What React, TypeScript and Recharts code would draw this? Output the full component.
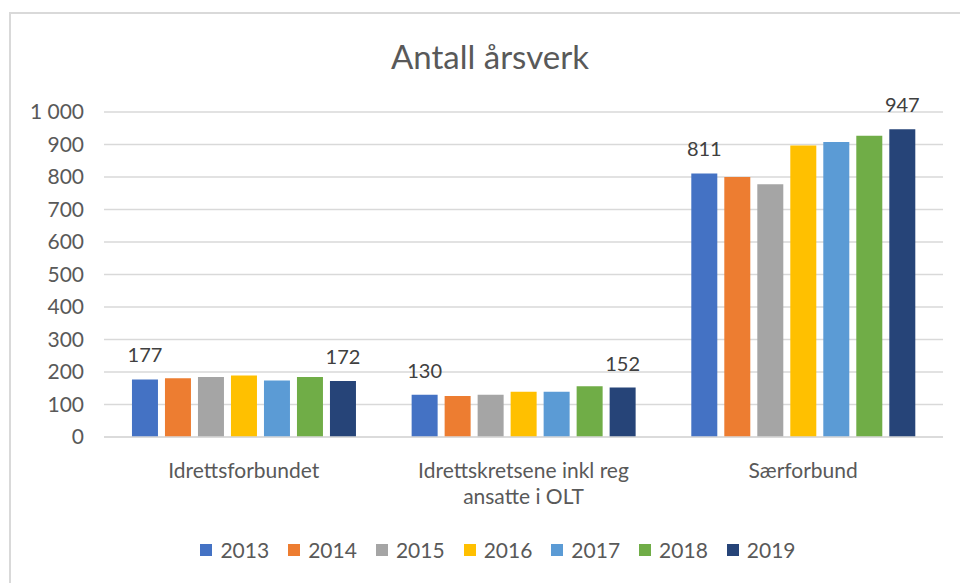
import { BarChart, Bar, XAxis, YAxis, CartesianGrid, Legend, LabelList, Text } from "recharts";

const categories = ["Idrettsforbundet", "Idrettskretsene inkl reg ansatte i OLT", "Særforbund"];
const years = ["2013", "2014", "2015", "2016", "2017", "2018", "2019"];
const v2013 = [177, 130, 811];
const v2014 = [181, 126, 800];
const v2015 = [185, 130, 778];
const v2016 = [189, 139, 897];
const v2017 = [174, 139, 908];
const v2018 = [185, 156, 927];
const v2019 = [172, 152, 947];
const yTicks = [0, 100, 200, 300, 400, 500, 600, 700, 800, 900, 1000];
const labelledYears = ["2013", "2019"];

const COLORS = ["#4472C4", "#ED7D31", "#A5A5A5", "#FFC000", "#5B9BD5", "#70AD47", "#264478"];
const FONT = "Lato, 'Open Sans', sans-serif";
const TEXT = "#595959";

const seriesValues = [v2013, v2014, v2015, v2016, v2017, v2018, v2019];

// one row per category, one key per year
const data = categories.map((name, i) => {
  const row: Record<string, string | number> = { name };
  years.forEach((y, j) => {
    row[y] = seriesValues[j][i];
  });
  return row;
});

// 1000 -> "1 000"
const formatTick = (v: number) =>
  v >= 1000 ? `${Math.floor(v / 1000)} ${String(v % 1000).padStart(3, "0")}` : String(v);

const CategoryTick = (props: any) => {
  const { x, y, payload } = props;
  return (
    <Text
      x={x}
      y={y}
      width={200}
      textAnchor="middle"
      verticalAnchor="start"
      lineHeight={26}
      fill={TEXT}
      style={{ fontSize: 21, fontFamily: FONT }}
    >
      {payload.value}
    </Text>
  );
};

const LegendContent = () => (
  <div style={{ display: "flex", justifyContent: "center", fontFamily: FONT, fontSize: 21, color: TEXT }}>
    {years.map((y, i) => (
      <div key={y} style={{ display: "flex", alignItems: "center", marginRight: i < years.length - 1 ? 19 : 0 }}>
        <span style={{ width: 12, height: 12, background: COLORS[i], display: "inline-block", marginRight: 8 }} />
        <span>{y}</span>
      </div>
    ))}
  </div>
);

export default function App() {
  return (
    <div style={{ position: "absolute", left: 0, top: 0, width: 960, height: 583, overflow: "hidden", background: "#fff" }}>
      {/* ramme rundt diagrammet */}
      <div
        style={{
          position: "absolute",
          left: 9,
          top: 12,
          width: 1000,
          height: 700,
          borderTop: "2px solid #d9d9d9",
          borderLeft: "2px solid #d9d9d9",
        }}
      />
      <div
        style={{
          position: "absolute",
          top: 36,
          left: 0,
          width: 980,
          textAlign: "center",
          fontFamily: FONT,
          fontSize: 33,
          color: TEXT,
        }}
      >
        Antall årsverk
      </div>
      <div style={{ position: "absolute", left: 0, top: 0 }}>
        <BarChart
          width={960}
          height={583}
          data={data}
          margin={{ top: 112, right: 17, left: 0, bottom: 86 }}
          barCategoryGap="10%"
          barGap={7}
        >
          <CartesianGrid vertical={false} stroke="#d9d9d9" strokeWidth={1.5} />
          <XAxis
            dataKey="name"
            tickLine={false}
            axisLine={{ stroke: "#d9d9d9", strokeWidth: 1.5 }}
            tick={<CategoryTick />}
            tickMargin={20}
            height={60}
            interval={0}
          />
          <YAxis
            domain={[0, 1000]}
            ticks={yTicks}
            tickFormatter={formatTick}
            axisLine={false}
            tickLine={false}
            tickMargin={14}
            width={104}
            tick={{ fill: TEXT, fontSize: 21, fontFamily: FONT }}
          />
          <Legend
            layout="horizontal"
            verticalAlign="middle"
            align="center"
            wrapperStyle={{ top: 537, left: 0, width: 996 }}
            content={<LegendContent />}
          />
          {years.map((y, i) => (
            <Bar key={y} dataKey={y} fill={COLORS[i]} isAnimationActive={false}>
              {labelledYears.includes(y) && (
                <LabelList dataKey={y} position="top" offset={17} fill="#404040" fontSize={20} fontFamily={FONT} />
              )}
            </Bar>
          ))}
        </BarChart>
      </div>
    </div>
  );
}
